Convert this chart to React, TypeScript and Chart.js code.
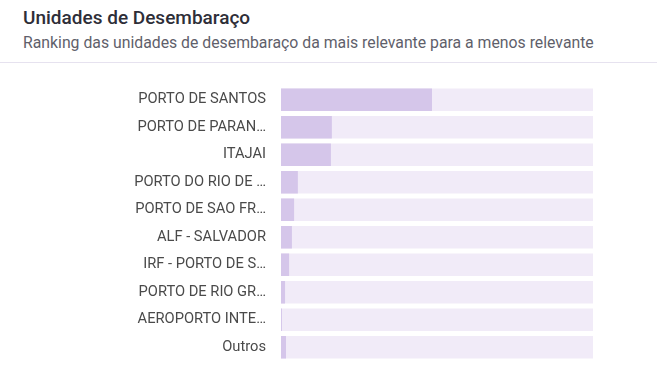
import React, { useEffect, useRef } from "react";
import { Chart, registerables } from "chart.js";

Chart.register(...registerables);

const categories = [
  "PORTO DE SANTOS",
  "PORTO DE PARAN…",
  "ITAJAI",
  "PORTO DO RIO DE …",
  "PORTO DE SAO FR…",
  "ALF - SALVADOR",
  "IRF - PORTO DE S…",
  "PORTO DE RIO GR…",
  "AEROPORTO INTE…",
  "Outros",
];
const shares = [48.4, 16.3, 16.0, 5.4, 4.2, 3.5, 2.6, 1.3, 0.3, 1.6];
const trackMax = 100;
const track = categories.map(() => trackMax);

const TITLE = "Unidades de Desembaraço";
const SUBTITLE = "Ranking das unidades de desembaraço da mais relevante para a menos relevante";

export default function App() {
  const ref = useRef<HTMLCanvasElement | null>(null);
  useEffect(() => {
    document.body.style.margin = "0";
    const ctx = ref.current!;
    const chart = new Chart(ctx, {
      type: "bar",
      data: {
        labels: categories,
        datasets: [
          {
            data: shares,
            backgroundColor: "#d5c6ea",
            barPercentage: 1,
            categoryPercentage: 0.82,
            grouped: false,
            order: 0,
          },
          {
            data: track,
            backgroundColor: "#f1ebf8",
            barPercentage: 1,
            categoryPercentage: 0.82,
            grouped: false,
            order: 1,
          },
        ],
      },
      options: {
        indexAxis: "y",
        animation: false,
        responsive: false,
        maintainAspectRatio: false,
        layout: { padding: { top: 86, bottom: 19, right: 64, left: 0 } },
        plugins: { legend: { display: false }, tooltip: { enabled: false } },
        scales: {
          x: { display: false, min: 0, max: trackMax },
          y: {
            grid: { display: false, drawTicks: false },
            border: { display: false },
            ticks: {
              padding: 15,
              color: "#4a4a4a",
              font: { family: "Roboto", size: 14.7 },
            },
            afterFit: (scale: any) => {
              scale.width = 281;
              scale.paddingTop = 0;
              scale.paddingBottom = 0;
            },
          },
        },
      },
    });
    return () => chart.destroy();
  }, []);

  return (
    <div style={{ position: "relative", width: 657, height: 380, background: "#fff", overflow: "hidden" }}>
      <div
        style={{
          position: "absolute",
          left: 23,
          top: 6,
          fontFamily: "Roboto",
          fontWeight: 500,
          fontSize: 19,
          color: "#2e2e38",
          whiteSpace: "nowrap",
        }}
      >
        {TITLE}
      </div>
      <div
        style={{
          position: "absolute",
          left: 23,
          top: 33,
          fontFamily: "Roboto",
          fontSize: 15.8,
          color: "#5f5f6b",
          whiteSpace: "nowrap",
        }}
      >
        {SUBTITLE}
      </div>
      <div style={{ position: "absolute", left: 0, top: 62, width: 657, height: 1, background: "#e6e2ef" }} />
      <canvas ref={ref} width={657} height={380} style={{ position: "absolute", left: 0, top: 0 }} />
    </div>
  );
}
